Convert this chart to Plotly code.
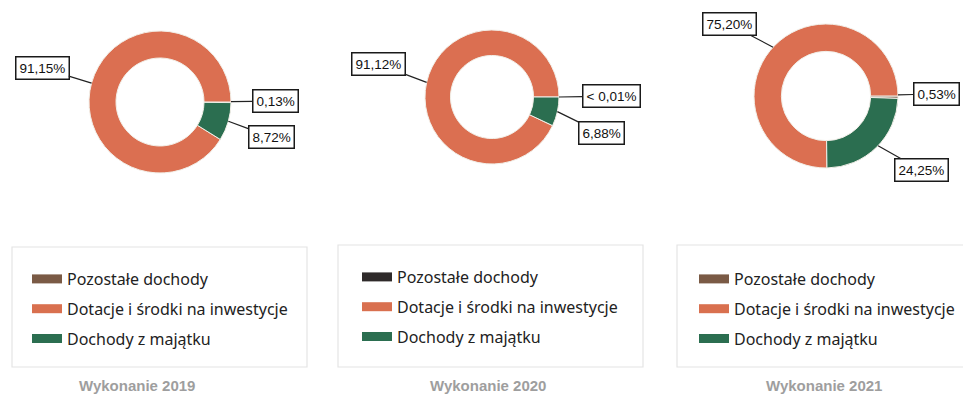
import math
import plotly.graph_objects as go

# ---------------- data ----------------
categories = ["Pozostałe dochody", "Dotacje i środki na inwestycje", "Dochody z majątku"]
years = ["Wykonanie 2019", "Wykonanie 2020", "Wykonanie 2021"]
values_2019 = [0.13, 91.15, 8.72]
values_2020 = [0.005, 91.12, 6.88]
values_2021 = [0.53, 75.20, 24.25]
labels_2019 = ["0,13%", "91,15%", "8,72%"]
labels_2020 = ["< 0,01%", "91,12%", "6,88%"]
labels_2021 = ["0,53%", "75,20%", "24,25%"]

slice_colors = ["#7d5f4e", "#db6f51", "#2b6e50"]
legend_colors = [
    ["#7a5a45", "#d9704f", "#2b6e50"],
    ["#2e2a2a", "#d9704f", "#2b6e50"],
    ["#7a5a45", "#d9704f", "#2b6e50"],
]

# ---------------- layout constants (pixels) ----------------
W, H = 963, 408
centers = [(160, 102), (492, 97), (826, 96)]
radii = [71, 67, 72]
label_pos = [
    [(275, 101), (42, 68), (271, 137)],
    [(611, 96), (378, 64), (601, 133)],
    [(936, 94), (729, 24), (921, 170)],
]
boxes = [(12, 247, 307, 367), (338, 245, 643, 367), (677, 245, 975, 367)]
legend_xy = [(27, 262), (357, 260), (694, 262)]
title_pos = [(137, 385), (488, 385), (824, 385)]


def px(x):
    return x / W


def py(y):
    return 1 - y / H


all_values = [values_2019, values_2020, values_2021]
all_labels = [labels_2019, labels_2020, labels_2021]

fig = go.Figure()
annotations = []
shapes = []

for k, vals in enumerate(all_values):
    cx, cy = centers[k]
    r = radii[k]
    fig.add_trace(go.Pie(
        labels=categories,
        values=vals,
        sort=False,
        direction="counterclockwise",
        rotation=90,
        hole=0.62,
        textinfo="none",
        hoverinfo="label+percent",
        showlegend=False,
        marker=dict(colors=slice_colors, line=dict(color="#f2efe8", width=1)),
        domain=dict(x=[px(cx - r), px(cx + r)], y=[py(cy + r), py(cy - r)]),
    ))
    total = sum(vals)
    cum = 0.0
    for i, v in enumerate(vals):
        f = v / total
        theta = math.radians(90 - 360 * (cum + f / 2))
        cum += f
        tx = cx + r * math.sin(theta)
        ty = cy - r * math.cos(theta)
        lx, ly = label_pos[k][i]
        annotations.append(dict(
            x=px(tx), y=py(ty), xref="paper", yref="paper",
            text=all_labels[k][i], showarrow=True, arrowhead=0,
            arrowwidth=1.2, arrowcolor="#222222",
            ax=lx - tx, ay=ly - ty,
            font=dict(family="Liberation Sans, Arial", size=13.5, color="#111111"),
            bgcolor="white", bordercolor="#1a1a1a", borderwidth=1.5, borderpad=3,
        ))
    # legend entries
    lname = "legend" if k == 0 else f"legend{k + 1}"
    for i, cat in enumerate(categories):
        fig.add_trace(go.Scatter(
            x=[None], y=[None], mode="lines", name=cat,
            line=dict(color=legend_colors[k][i], width=9),
            legend=lname, legendgroup=f"{k}-{i}", showlegend=True,
            hoverinfo="skip",
        ))
    x0, y0, x1, y1 = boxes[k]
    shapes.append(dict(type="rect", xref="paper", yref="paper",
                       x0=px(x0), x1=px(x1), y0=py(y1), y1=py(y0),
                       line=dict(color="#e4e4e4", width=1.2), fillcolor="rgba(0,0,0,0)",
                       layer="below"))
    tx_, ty_ = title_pos[k]
    annotations.append(dict(
        x=px(tx_), y=py(ty_), xref="paper", yref="paper", showarrow=False,
        text=years[k], xanchor="center", yanchor="middle",
        font=dict(family="Liberation Sans, Arial", size=15, color="#9e9e9e", weight="bold"),
    ))

legend_common = dict(
    bgcolor="rgba(0,0,0,0)", borderwidth=0, traceorder="grouped", tracegroupgap=6,
    font=dict(family="Noto Sans", size=16, color="#222222"),
    xanchor="left", yanchor="top", orientation="v",
)
layout_legends = {}
for k in range(3):
    lname = "legend" if k == 0 else f"legend{k + 1}"
    lx, ly = legend_xy[k]
    layout_legends[lname] = dict(legend_common, x=px(lx), y=py(ly))

fig.update_layout(
    width=W, height=H,
    margin=dict(l=0, r=0, t=0, b=0),
    paper_bgcolor="white", plot_bgcolor="white",
    xaxis=dict(visible=False), yaxis=dict(visible=False),
    annotations=annotations, shapes=shapes,
    showlegend=True,
    **layout_legends,
)

fig.write_html(
    "out.html",
    config={"displayModeBar": False},
    post_script="document.body.style.margin='0';document.body.style.overflow='hidden';",
)
